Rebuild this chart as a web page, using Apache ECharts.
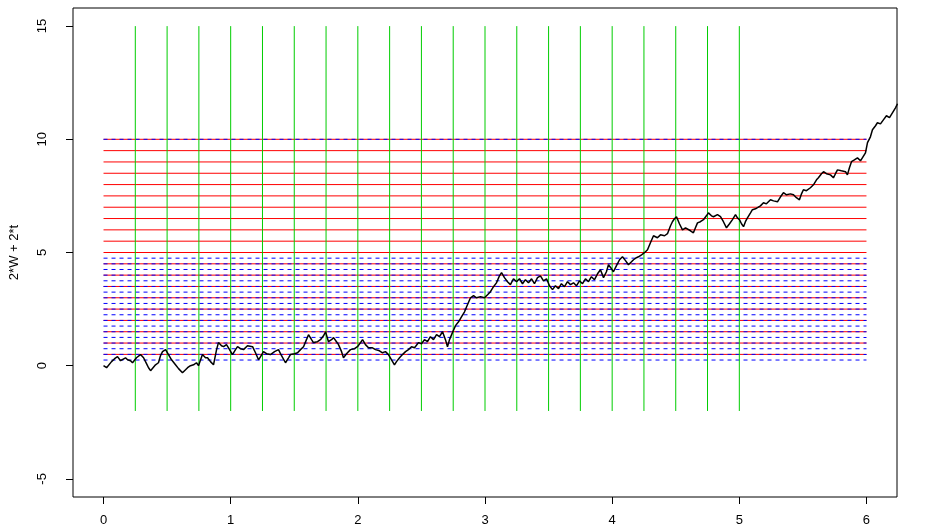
<!DOCTYPE html>
<html>
<head>
<meta charset="utf-8">
<script src="https://cdn.jsdelivr.net/npm/echarts@6/dist/echarts.min.js"></script>
<style>
html, body { margin: 0; padding: 0; background: #fff; }
#chart { width: 942px; height: 530px; }
</style>
</head>
<body>
<div id="chart"></div>
<script>
// Sample path of 2*W + 2*t (time, value)
const times = [
  0, 0.024, 0.039, 0.063, 0.087, 0.110, 0.134, 0.149, 0.173, 0.189,
  0.212, 0.228, 0.259, 0.291, 0.315, 0.338, 0.354, 0.370, 0.385, 0.409,
  0.432, 0.448, 0.464, 0.488, 0.511, 0.535, 0.566, 0.590, 0.621, 0.645,
  0.661, 0.684, 0.708, 0.731, 0.747, 0.778, 0.802, 0.818, 0.841, 0.865,
  0.889, 0.904, 0.928, 0.944, 0.967, 0.983, 1.014, 1.038, 1.054, 1.077,
  1.101, 1.132, 1.172, 1.195, 1.219, 1.235, 1.258, 1.282, 1.313, 1.345,
  1.376, 1.400, 1.431, 1.455, 1.470, 1.502, 1.526, 1.549, 1.573, 1.596,
  1.612, 1.636, 1.651, 1.683, 1.706, 1.730, 1.746, 1.769, 1.793, 1.809,
  1.832, 1.848, 1.872, 1.887, 1.911, 1.942, 1.974, 1.997, 2.021, 2.037,
  2.060, 2.084, 2.115, 2.139, 2.170, 2.194, 2.217, 2.241, 2.265, 2.288,
  2.304, 2.328, 2.351, 2.375, 2.398, 2.422, 2.446, 2.477, 2.501, 2.524,
  2.548, 2.571, 2.595, 2.619, 2.642, 2.666, 2.689, 2.705, 2.721, 2.744,
  2.768, 2.792, 2.815, 2.839, 2.862, 2.886, 2.910, 2.933, 2.965, 2.996,
  3.020, 3.043, 3.067, 3.090, 3.114, 3.130, 3.153, 3.177, 3.200, 3.224,
  3.248, 3.271, 3.295, 3.318, 3.342, 3.366, 3.389, 3.413, 3.436, 3.460,
  3.484, 3.507, 3.531, 3.554, 3.578, 3.601, 3.625, 3.649, 3.672, 3.696,
  3.719, 3.743, 3.767, 3.790, 3.814, 3.837, 3.861, 3.885, 3.908, 3.932,
  3.955, 3.971, 3.995, 4.010, 4.034, 4.058, 4.081, 4.105, 4.128, 4.152,
  4.168, 4.191, 4.207, 4.231, 4.254, 4.278, 4.301, 4.325, 4.356, 4.380,
  4.412, 4.435, 4.459, 4.474, 4.490, 4.506, 4.529, 4.553, 4.577, 4.592,
  4.616, 4.639, 4.655, 4.671, 4.694, 4.718, 4.741, 4.757, 4.781, 4.797,
  4.828, 4.852, 4.875, 4.899, 4.923, 4.946, 4.970, 4.985, 5.001, 5.017,
  5.033, 5.048, 5.064, 5.088, 5.103, 5.127, 5.143, 5.166, 5.190, 5.213,
  5.245, 5.269, 5.300, 5.324, 5.347, 5.371, 5.402, 5.426, 5.449, 5.473,
  5.489, 5.504, 5.528, 5.559, 5.583, 5.607, 5.622, 5.646, 5.662, 5.685,
  5.717, 5.740, 5.756, 5.772, 5.803, 5.835, 5.850, 5.866, 5.882, 5.905,
  5.929, 5.953, 5.968, 5.992, 6.008, 6.031, 6.047, 6.071, 6.086, 6.110,
  6.133, 6.157, 6.181, 6.204, 6.228, 6.244
];
const values = [
  0, -0.09, -0.04, 0.18, 0.31, 0.40, 0.22, 0.18, 0.35, 0.26,
  0.22, 0.13, 0.35, 0.49, 0.35, 0.09, -0.09, -0.22, -0.26, 0.04,
  0.13, 0.44, 0.62, 0.71, 0.49, 0.26, 0.04, -0.13, -0.31, -0.18,
  -0.09, 0.00, 0.04, 0.13, 0.00, 0.49, 0.35, 0.35, 0.18, 0.04,
  0.71, 1.02, 0.88, 0.84, 0.93, 0.79, 0.49, 0.71, 0.84, 0.75,
  0.71, 0.88, 0.84, 0.57, 0.26, 0.40, 0.62, 0.53, 0.49, 0.62,
  0.71, 0.44, 0.13, 0.35, 0.49, 0.53, 0.57, 0.71, 0.84, 1.15,
  1.37, 1.15, 1.02, 1.06, 1.15, 1.32, 1.50, 1.06, 1.15, 1.24,
  1.06, 0.93, 0.62, 0.35, 0.53, 0.71, 0.75, 0.84, 1.02, 1.15,
  0.93, 0.79, 0.79, 0.71, 0.66, 0.57, 0.62, 0.49, 0.26, 0.04,
  0.18, 0.35, 0.49, 0.62, 0.71, 0.84, 0.79, 1.02, 0.97, 1.15,
  1.06, 1.28, 1.15, 1.37, 1.28, 1.50, 1.15, 0.84, 1.15, 1.46,
  1.77, 1.94, 2.16, 2.38, 2.69, 3.00, 3.09, 3.00, 3.05, 3.00,
  3.13, 3.27, 3.49, 3.66, 3.97, 4.11, 3.89, 3.71, 3.58, 3.84,
  3.71, 3.84, 3.62, 3.80, 3.66, 3.84, 3.62, 3.89, 3.97, 3.75,
  3.84, 3.53, 3.36, 3.53, 3.40, 3.62, 3.49, 3.71, 3.58, 3.66,
  3.53, 3.75, 3.62, 3.84, 3.71, 3.93, 3.80, 4.06, 4.24, 3.89,
  4.15, 4.46, 4.28, 4.15, 4.42, 4.68, 4.81, 4.64, 4.46, 4.59,
  4.68, 4.77, 4.81, 4.90, 4.99, 5.12, 5.43, 5.74, 5.65, 5.78,
  5.74, 5.83, 6.18, 6.36, 6.49, 6.58, 6.27, 6.00, 6.09, 6.14,
  5.96, 5.87, 6.09, 6.31, 6.36, 6.45, 6.62, 6.75, 6.62, 6.58,
  6.67, 6.58, 6.36, 6.09, 6.27, 6.45, 6.67, 6.53, 6.45, 6.27,
  6.14, 6.36, 6.53, 6.75, 6.89, 6.93, 6.98, 7.06, 7.20, 7.15,
  7.33, 7.28, 7.24, 7.46, 7.64, 7.55, 7.59, 7.55, 7.42, 7.33,
  7.59, 7.77, 7.73, 7.86, 7.99, 8.21, 8.30, 8.48, 8.57, 8.48,
  8.43, 8.30, 8.48, 8.65, 8.61, 8.57, 8.43, 8.74, 9.01, 9.09,
  9.18, 9.05, 9.09, 9.40, 9.85, 10.11, 10.42, 10.60, 10.73, 10.68,
  10.86, 11.04, 10.96, 11.17, 11.39, 11.57
];

// Horizontal reference levels
const redLevels = [0.5, 1, 1.5, 2, 2.5, 3, 3.5, 4, 4.5, 5, 5.5, 6, 6.5, 7, 7.5, 8, 8.5, 9, 9.5, 10];
const blueLevels = [0.25, 0.5, 0.75, 1, 1.25, 1.5, 1.75, 2, 2.25, 2.5, 2.75, 3, 3.25, 3.5, 3.75, 4, 4.25, 4.5, 4.75, 10];
// Vertical reference times
const greenTimes = [0.25, 0.5, 0.75, 1, 1.25, 1.5, 1.75, 2, 2.25, 2.5, 2.75, 3, 3.25, 3.5, 3.75, 4, 4.25, 4.5, 4.75, 5];

const levelSpan = [0, 6];     // time range covered by the horizontal lines
const timeSpan = [-2, 15];    // value range covered by the vertical lines

const xTicks = [0, 1, 2, 3, 4, 5, 6];
const yTicks = [-5, 0, 5, 10, 15];

const font = 'Liberation Sans, Arial, Helvetica, sans-serif';

const series = [];
redLevels.forEach(function (lv) {
  series.push({
    type: 'line', silent: true, symbol: 'none', animation: false, z: 2,
    data: [[levelSpan[0], lv], [levelSpan[1], lv]],
    lineStyle: { color: '#ff0000', width: 1 }
  });
});
blueLevels.forEach(function (lv) {
  series.push({
    type: 'line', silent: true, symbol: 'none', animation: false, z: 3,
    data: [[levelSpan[0], lv], [levelSpan[1], lv]],
    lineStyle: { color: '#0000ff', width: 1, type: [4, 4] }
  });
});
greenTimes.forEach(function (t) {
  series.push({
    type: 'line', silent: true, symbol: 'none', animation: false, z: 4,
    data: [[t, timeSpan[0]], [t, timeSpan[1]]],
    lineStyle: { color: '#00cd00', width: 1 }
  });
});
series.push({
  type: 'line', silent: true, symbol: 'none', animation: false, z: 5,
  clip: true,
  data: times.map(function (t, i) { return [t, values[i]]; }),
  lineStyle: { color: '#000', width: 1.5 }
});

const chart = echarts.init(document.getElementById('chart'), null, { renderer: 'canvas' });
chart.setOption({
  animation: false,
  backgroundColor: '#fff',
  grid: {
    left: 73, right: 45, top: 8, bottom: 33,
    show: true, borderColor: '#000', borderWidth: 1, backgroundColor: 'transparent'
  },
  xAxis: {
    type: 'value', min: -0.24, max: 6.24,
    axisLine: { show: false, onZero: false },
    splitLine: { show: false },
    axisTick: { show: true, customValues: xTicks, length: 7, lineStyle: { color: '#000' } },
    axisLabel: { customValues: xTicks, margin: 17, fontSize: 13, color: '#000', fontFamily: font }
  },
  yAxis: {
    type: 'value', min: -5.8, max: 15.8,
    name: '2*W + 2*t', nameLocation: 'middle', nameGap: 52,
    nameTextStyle: { fontSize: 13, color: '#000', fontFamily: font },
    axisLine: { show: false, onZero: false },
    splitLine: { show: false },
    axisTick: { show: true, customValues: yTicks, length: 7, lineStyle: { color: '#000' } },
    axisLabel: { customValues: yTicks, rotate: 90, margin: 24, fontSize: 13, color: '#000', fontFamily: font }
  },
  series: series
});
</script>
</body>
</html>
